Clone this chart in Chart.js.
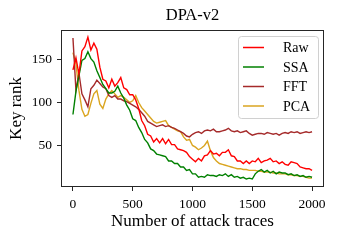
<!DOCTYPE html>
<html>
<head>
  <title>DPA-v2</title>
  <script src="https://cdn.jsdelivr.net/npm/chart.js"></script>
  <style>
    html, body { margin: 0; padding: 0; background: #fff; }
    #wrap { width: 340px; height: 240px; }
  </style>
</head>
<body>
  <div id="wrap"><canvas id="keyRankChart" width="340" height="240"></canvas></div>

  <script>
    // number of attack traces (x)
    const traces = [0, 25, 50, 75, 100, 125, 150, 175, 200, 225, 250, 275, 300, 325, 350, 375, 400, 425, 450, 475,
      500, 525, 550, 575, 600, 625, 650, 675, 700, 725, 750, 775, 800, 825, 850, 875, 900, 925, 950, 975,
      1000, 1025, 1050, 1075, 1100, 1125, 1150, 1175, 1200, 1225, 1250, 1275, 1300, 1325, 1350, 1375, 1400, 1425, 1450, 1475,
      1500, 1525, 1550, 1575, 1600, 1625, 1650, 1675, 1700, 1725, 1750, 1775, 1800, 1825, 1850, 1875, 1900, 1925, 1950, 1975, 2000];

    const rawRank = [138, 152, 133, 160, 165, 176, 161, 169, 162, 141, 127, 125, 117, 127, 119, 123, 129, 117, 115, 109,
      109, 103, 93, 79, 73, 63, 61, 54, 58, 53, 58, 52, 57, 51, 51, 46, 45, 44, 42, 37,
      34, 31, 35, 32, 38, 39, 44, 40, 41, 38, 42, 42, 45, 38, 37, 32, 32, 29, 32, 29,
      32, 31, 35, 30, 32, 33, 35, 31, 32, 29, 31, 28, 27, 31, 30, 29, 25, 24, 23, 23, 21];

    const ssaRank = [86, 113, 131, 149, 151, 159, 151, 147, 137, 129, 121, 116, 111, 111, 113, 119, 111, 105, 97, 91,
      81, 79, 71, 65, 57, 53, 46, 44, 40, 39, 38, 37, 32, 32, 29, 29, 25, 25, 21, 22,
      17, 17, 13, 14, 13, 16, 15, 15, 14, 16, 15, 17, 14, 16, 13, 14, 12, 13, 11, 12,
      11, 17, 20, 22, 19, 21, 18, 20, 17, 19, 18, 18, 16, 17, 15, 16, 14, 15, 13, 14, 13];

    const fftRank = [175, 114, 134, 110, 103, 95, 116, 120, 126, 122, 118, 116, 108, 106, 108, 104, 104, 102, 101, 99,
      97, 95, 92, 88, 84, 78, 76, 74, 72, 73, 74, 72, 73, 71, 70, 68, 66, 64, 61, 60,
      63, 65, 66, 64, 67, 68, 67, 69, 66, 66, 67, 68, 70, 67, 66, 67, 65, 66, 67, 64,
      62, 63, 64, 64, 63, 65, 64, 63, 64, 62, 64, 65, 64, 66, 65, 66, 64, 65, 66, 65, 66];

    const pcaRank = [158, 145, 114, 92, 84, 86, 99, 110, 114, 98, 93, 104, 110, 114, 110, 106, 108, 106, 103, 100,
      102, 108, 100, 94, 90, 86, 82, 78, 76, 77, 78, 79, 73, 71, 69, 67, 66, 60, 56, 57,
      50, 48, 45, 47, 50, 55, 44, 36, 32, 29, 28, 27, 26, 25, 24, 23, 23, 22, 22, 21,
      21, 21, 20, 20, 19, 19, 19, 18, 18, 17, 17, 17, 16, 16, 15, 15, 14, 14, 13, 12, 12];

    const seriesNames = ["Raw", "SSA", "FFT", "PCA"];
    const seriesColors = ["#ff0000", "#008000", "#a52a2a", "#daa520"];
    const xTicks = [0, 500, 1000, 1500, 2000];
    const yTicks = [50, 100, 150];

    const serif = "'Liberation Serif', 'DejaVu Serif', serif";

    const toPoints = arr => traces.map((t, i) => ({ x: t, y: arr[i] }));
    const allSeries = [rawRank, ssaRank, fftRank, pcaRank];

    // legend box drawn inside the plot (upper right), plus a full frame
    const framePlugin = {
      id: 'frameAndLegend',
      afterDatasetsDraw(chart) {
        const ctx = chart.ctx;
        const a = chart.chartArea;
        ctx.save();
        ctx.strokeStyle = '#262626';
        ctx.lineWidth = 1;
        ctx.strokeRect(Math.round(a.left) + 0.5, Math.round(a.top) + 0.5,
          Math.round(a.right - a.left) - 1, Math.round(a.bottom - a.top) - 1);

        // legend
        const bx = 238.5, by = 36.5, bw = 80, bh = 82, r = 3;
        ctx.beginPath();
        ctx.moveTo(bx + r, by);
        ctx.arcTo(bx + bw, by, bx + bw, by + bh, r);
        ctx.arcTo(bx + bw, by + bh, bx, by + bh, r);
        ctx.arcTo(bx, by + bh, bx, by, r);
        ctx.arcTo(bx, by, bx + bw, by, r);
        ctx.closePath();
        ctx.fillStyle = 'rgba(255,255,255,0.8)';
        ctx.fill();
        ctx.strokeStyle = '#d0d0d0';
        ctx.stroke();

        ctx.font = "14px " + serif;
        ctx.textBaseline = 'middle';
        chart.data.datasets.forEach((ds, i) => {
          const y = 47.5 + i * 19.5;
          ctx.strokeStyle = ds.borderColor;
          ctx.lineWidth = 1.5;
          ctx.beginPath();
          ctx.moveTo(243, y);
          ctx.lineTo(264, y);
          ctx.stroke();
          ctx.fillStyle = '#000';
          ctx.fillText(ds.label, 283, y + 1);
        });
        ctx.restore();
      }
    };

    new Chart(document.getElementById('keyRankChart').getContext('2d'), {
      type: 'line',
      data: {
        datasets: allSeries.map((arr, i) => ({
          label: seriesNames[i],
          data: toPoints(arr),
          borderColor: seriesColors[i],
          backgroundColor: seriesColors[i],
          borderWidth: 1.4,
          pointRadius: 0,
          tension: 0,
          fill: false
        }))
      },
      options: {
        responsive: false,
        animation: false,
        devicePixelRatio: 1,
        layout: { padding: { top: 0, right: 16, left: 0, bottom: 0 } },
        plugins: {
          legend: { display: false },
          tooltip: { enabled: false },
          title: {
            display: true,
            text: 'DPA-v2',
            fullSize: false,
            color: '#000',
            font: { family: serif, size: 16.5, weight: 'normal' },
            padding: { top: 6, bottom: 4.2 }
          }
        },
        scales: {
          x: {
            type: 'linear',
            min: -100,
            max: 2100,
            afterBuildTicks: s => { s.ticks = xTicks.map(v => ({ value: v })); },
            afterFit: s => { s.height = 53; },
            grid: { display: true, drawOnChartArea: false, drawTicks: true, tickLength: 4, color: '#262626' },
            border: { display: false },
            ticks: { color: '#000', padding: 5, maxRotation: 0, callback: v => String(v),
              font: { family: serif, size: 13.5 } },
            title: { display: true, text: 'Number of attack traces', color: '#000',
              font: { family: serif, size: 17 }, padding: { top: 0, bottom: 8 } }
          },
          y: {
            type: 'linear',
            min: 1.7,
            max: 184.3,
            afterBuildTicks: s => { s.ticks = yTicks.map(v => ({ value: v })); },
            afterFit: s => { s.width = 61; },
            grid: { display: true, drawOnChartArea: false, drawTicks: true, tickLength: 4, color: '#262626' },
            border: { display: false },
            ticks: { color: '#000', padding: 5, callback: v => String(v),
              font: { family: serif, size: 13.5 } },
            title: { display: true, text: 'Key rank', color: '#000',
              font: { family: serif, size: 17 }, padding: { top: 6, bottom: 0 } }
          }
        }
      },
      plugins: [framePlugin]
    });
  </script>
</body>
</html>
